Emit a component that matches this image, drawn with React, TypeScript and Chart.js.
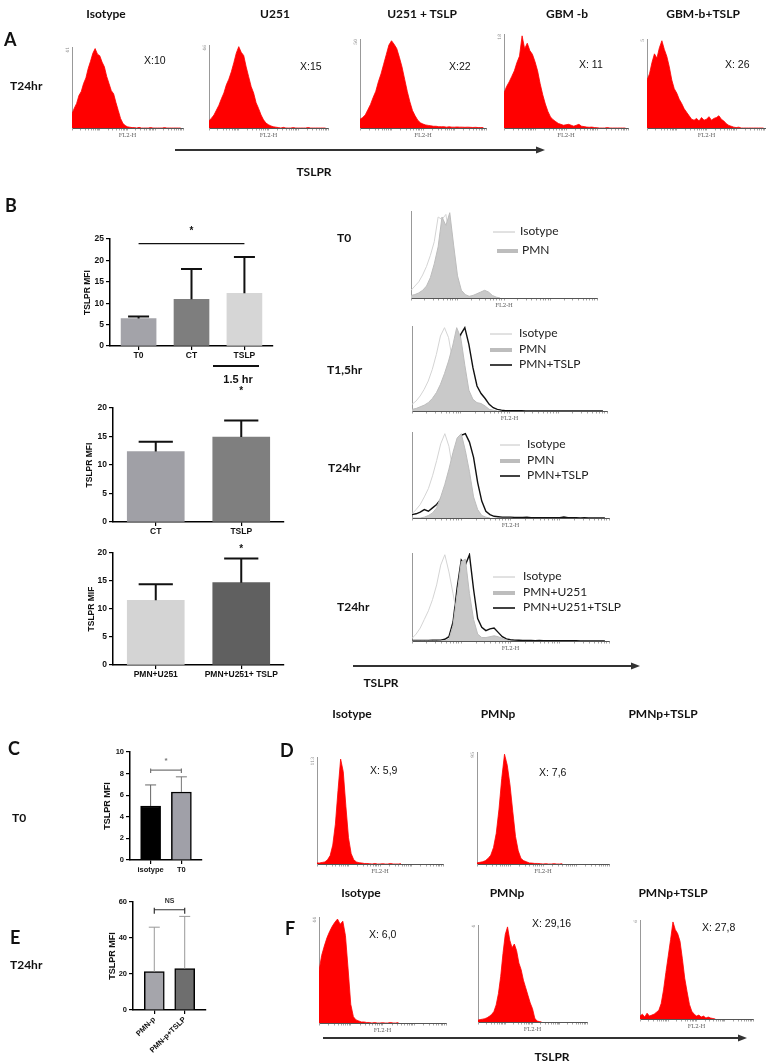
import React, { useEffect, useRef } from 'react';
import { Chart, registerables } from 'chart.js';

Chart.register(...registerables);
Chart.defaults.font.family = "'Liberation Sans', Arial, sans-serif";
Chart.defaults.color = '#111';

// ---------- flow-cytometry channel axis: 4 log decades ----------
const CHANNELS = 48;
const DECADES = [0, 1, 2, 3];
const MINOR = [1, 2, 3, 4, 5, 6, 7, 8, 9];

// ---------- Panel A (T24hr) histograms, counts per channel ----------
const A_ISOTYPE = [18, 25, 31, 41, 46, 56, 63, 75, 84, 94, 100, 93, 91, 83, 77, 65, 56, 47, 43, 32, 22, 12, 6, 3, 1.5, 1, 0.5, 0.5, 0, 0.8, 0, 0, 0, 0, 0.6, 0, 0, 0, 0, 0, 0.5, 0, 0, 0, 0, 0, 0, 0];
const A_U251 = [9, 12, 16, 22, 28, 36, 43, 53, 60, 69, 80, 92, 100, 93, 89, 75, 63, 51, 43, 31, 24, 16, 10, 6, 4, 2.5, 1.5, 1, 0.5, 0, 0.8, 0, 0, 0, 0.5, 0, 0, 0, 0, 0, 0.6, 0, 0, 0, 0, 0, 0, 0];
const A_U251_TSLP = [10, 12, 15, 21, 27, 35, 42, 53, 62, 73, 84, 95, 100, 96, 91, 81, 70, 56, 42, 30, 20, 14, 9, 6, 4.5, 3.5, 3, 2.5, 2, 2, 1.5, 1.5, 1.5, 1, 1.5, 1, 1, 1.2, 1, 1, 0.8, 1, 0.8, 0.6, 0.8, 0.5, 0.5, 0.5];
const A_GBM = [38, 45, 50, 56, 62, 71, 78, 100, 86, 92, 84, 80, 72, 62, 48, 36, 26, 18, 12, 9, 7, 5, 4, 3, 3.5, 4, 3, 2, 3, 4, 2, 1.5, 1, 0.8, 1, 0.5, 0.3, 0, 0, 0, 0.5, 0, 0, 0, 0, 0, 0, 0];
const A_GBM_TSLP = [55, 62, 75, 85, 80, 92, 100, 90, 82, 70, 55, 45, 40, 33, 28, 22, 18, 14, 10, 9, 11, 8, 12, 9, 10, 13, 9, 11, 12, 14, 10, 8, 5, 3, 2, 1, 0.5, 1, 0, 0, 0, 0, 0, 0, 0, 0, 0, 0];
const A_TOP_LABELS = ['41', '46', '50', '18', '5'];

// ---------- Panel B overlay histograms ----------
const B_T0_ISOTYPE = [9, 14, 19, 27, 37, 50, 66, 95, 92, 98, 70, 35, 10, 3, 1, 0];
const B_T0_PMN = [3, 4, 6, 9, 14, 24, 40, 60, 95, 85, 100, 62, 26, 9, 4, 2, 3, 5, 7, 9, 7, 3, 1, 0];
const B_T15_ISOTYPE = [8, 12, 18, 26, 36, 50, 68, 90, 100, 88, 60, 30, 10, 3, 1, 0];
const B_T15_PMN = [2, 3, 5, 7, 10, 15, 22, 32, 45, 60, 78, 100, 88, 55, 25, 14, 10, 9, 6, 2, 1, 0];
const B_T15_TSLP = [1, 1.5, 2, 3, 4, 5, 7, 10, 22, 35, 50, 70, 92, 100, 80, 52, 30, 21, 15, 8, 4, 2, 1, 0.5, 0.5, 0.3, 0.3, 0.3, 0.2, 0.2, 0.2, 0.2, 0.2, 0.2, 0.2, 0.2, 0.2, 0.2, 0.2, 0.2, 0.2, 0.2, 0.2, 0.2, 0.2, 0.2, 0.2, 0.2];
const B_T24_ISOTYPE = [5, 10, 16, 25, 35, 50, 68, 88, 100, 85, 55, 25, 8, 2, 0.5, 0];
const B_T24_PMN = [0, 0, 0, 1, 3, 6, 12, 25, 40, 58, 78, 95, 100, 80, 55, 25, 10, 3, 1, 0];
const B_T24_TSLP = [4, 5, 7, 10, 8, 12, 16, 22, 32, 42, 55, 75, 98, 100, 90, 72, 42, 20, 8, 4, 2, 1.5, 1, 1, 1, 0.8, 0.8, 0.6, 0.8, 0.5, 0.5, 0.5, 0.4, 0.5, 0.4, 0.3, 0.4, 1.2, 0.3, 0.3, 0.3, 0.2, 0.3, 0.2, 0.2, 0.2, 0.2, 0.2];
const B_U251_ISOTYPE = [3, 8, 15, 25, 35, 48, 65, 88, 100, 80, 55, 28, 10, 3, 1, 0.5, 0];
const B_U251_PMN = [0, 0, 0, 0, 0, 0, 0, 0, 0.5, 2, 18, 55, 92, 95, 55, 25, 8, 4, 4, 5, 6, 5, 3, 1, 0];
const B_U251_TSLP = [0.5, 0.5, 0.5, 0.5, 0.5, 0.8, 0.8, 1, 2, 5, 22, 62, 94, 88, 100, 60, 26, 16, 12, 14, 15, 10, 5, 2.5, 1.5, 1, 0.8, 0.5, 0.5, 0.5, 0.4, 0.5, 0.4, 0.3, 0.3, 0.3, 0.3, 0.3, 0.3, 0.3, 0.3, 0.2, 0.2, 0.2, 0.2, 0.2, 0.2, 0.2];

// ---------- Panel D / F histograms ----------
const D_ISOTYPE = [1, 1, 1.5, 2, 4, 8, 18, 38, 70, 100, 88, 55, 25, 10, 4, 2, 1.2, 1, 0.5, 0.5, 0.3, 0, 0.5, 0, 0, 0.3, 0, 0, 0.5, 0, 0, 0, 0.3];
const D_PMNP = [1, 1.5, 2, 3, 5, 8, 15, 28, 50, 78, 100, 90, 72, 48, 25, 12, 5, 3, 2, 1, 0.8, 0.5, 0.5, 0.3, 0, 0.3, 0, 0, 0.3, 0, 0, 0.3];
const D_TOP_LABELS = ['113', '95'];
const F_ISOTYPE = [50, 65, 74, 82, 88, 93, 97, 100, 95, 98, 84, 52, 18, 6, 3, 2, 1, 1, 0.5, 0.5, 0, 0.5, 0, 0, 0.3, 0, 0, 0.5, 0, 0, 0.4];
const F_PMNP = [2, 2.5, 3, 3.5, 4.5, 6, 8, 11, 18, 30, 48, 72, 92, 100, 86, 78, 82, 75, 62, 55, 44, 36, 28, 20, 14, 4, 1, 0.5, 0];
const F_PMNP_TSLP = [3, 5, 2, 6, 3, 4, 5, 7, 9, 16, 30, 48, 65, 82, 100, 92, 88, 80, 62, 42, 28, 15, 8, 5, 3, 4, 2, 3, 1, 2, 1, 0.5, 0];
const F_TOP_LABELS = ['44', '4', '6'];

// ---------- Bar charts (MFI) ----------
const B1_CATS = ['T0', 'CT', 'TSLP'];
const B1_MEAN = [6.4, 10.9, 12.3];
const B1_UPPER = [6.9, 18.0, 20.8];
const B1_COLORS = ['#a3a3a9', '#7e7e7e', '#d6d6d6'];
const B1_TICKS = { max: 25, step: 5 };

const B2_CATS = ['CT', 'TSLP'];
const B2_MEAN = [12.35, 14.9];
const B2_UPPER = [14.1, 17.8];
const B2_COLORS = ['#a0a0a6', '#7f7f7f'];
const B2_TICKS = { max: 20, step: 5 };

const B3_CATS = ['PMN+U251', 'PMN+U251+ TSLP'];
const B3_MEAN = [11.55, 14.7];
const B3_UPPER = [14.4, 19.0];
const B3_COLORS = ['#d4d4d4', '#606060'];
const B3_TICKS = { max: 20, step: 5 };

const C_CATS = ['isotype', 'T0'];
const C_MEAN = [5.0, 6.3];
const C_UPPER = [6.95, 7.7];
const C_COLORS = ['#000000', '#a0a0a8'];
const C_TICKS = { max: 10, step: 2 };

const E_CATS = ['PMN-p', 'PMN-p+TSLP'];
const E_MEAN = [21.3, 23.0];
const E_UPPER = [46, 52];
const E_COLORS = ['#a5a5ab', '#6e6e6e'];
const E_TICKS = { max: 60, step: 20 };

const LOG_TICKS = DECADES.flatMap((d) => MINOR.map((m) => (CHANNELS / DECADES.length) * (d + Math.log10(m)))).concat([CHANNELS]);

// ---------- generic chart box ----------
function Plot({ rect, yW, xH, pad, make }: any) {
  const ref = useRef<HTMLCanvasElement>(null);
  const [L, T, R, B] = rect;
  const p = { top: 0, right: 0, bottom: 0, left: 0, ...(pad || {}) };
  const left = L - yW - p.left;
  const top = T - p.top;
  const w = R - L + yW + p.left + p.right;
  const h = B - T + xH + p.top + p.bottom;
  useEffect(() => {
    const cfg = make();
    const o = cfg.options;
    o.responsive = false;
    o.animation = false;
    o.devicePixelRatio = 1;
    o.events = [];
    o.layout = { padding: p, autoPadding: false };
    o.plugins = { ...(o.plugins || {}), legend: { display: false }, tooltip: { enabled: false } };
    o.scales.x.afterFit = (s: any) => { s.height = xH; };
    o.scales.y.afterFit = (s: any) => { s.width = yW; };
    const chart = new Chart(ref.current as HTMLCanvasElement, cfg);
    return () => chart.destroy();
  }, []);
  return <canvas ref={ref} width={w} height={h} style={{ position: 'absolute', left, top, width: w, height: h }} />;
}

// ---------- histogram config ----------
function histMake(series: any[], yLabel: string) {
  return () => ({
    type: 'line',
    data: {
      datasets: series.map(([vals, kind]: any) => ({
        data: vals.map((v: number, i: number) => ({ x: i, y: v })),
        fill: kind === 'red' || kind === 'fill' ? 'origin' : false,
        backgroundColor: kind === 'red' ? '#ff0000' : '#c9c9c9',
        borderColor: kind === 'red' ? '#ff0000' : kind === 'fill' ? '#bcbcbc' : kind === 'iso' ? '#d4d4d4' : '#111111',
        borderWidth: kind === 'red' ? 0.8 : kind === 'dark' ? 1.4 : 1,
        pointRadius: 0,
        tension: 0,
      })),
    },
    options: {
      scales: {
        x: {
          type: 'linear', min: 0, max: CHANNELS,
          afterBuildTicks: (s: any) => { s.ticks = LOG_TICKS.map((v) => ({ value: v })); },
          ticks: { display: false },
          grid: { display: true, drawOnChartArea: false, drawTicks: true, tickLength: 2.5, color: '#666', lineWidth: 0.6 },
          border: { display: true, color: '#555', width: 1 },
          title: { display: true, text: 'FL2-H', font: { size: 5.5, family: "'DejaVu Serif', serif" }, color: '#555', padding: 0 },
        },
        y: {
          min: 0, max: 102,
          ticks: { display: false },
          grid: { display: false, drawTicks: false },
          border: { display: true, color: '#999', width: 1 },
          title: { display: !!yLabel, text: yLabel, align: 'end', font: { size: 4.5, family: "'DejaVu Serif', serif" }, color: '#888', padding: 0 },
        },
      },
    },
  });
}

// ---------- bar chart config ----------
function annotPlugin(spec: any) {
  return {
    id: 'annot',
    afterDatasetsDraw(chart: any) {
      const ctx = chart.ctx;
      const xs = chart.scales.x;
      const ys = chart.scales.y;
      const meta = chart.getDatasetMeta(0);
      ctx.save();
      spec.upper.forEach((u: number, i: number) => {
        const el = meta.data[i];
        const xc = el.x;
        const half = (el.width * spec.cap) / 2;
        const y0 = ys.getPixelForValue(spec.mean[i]);
        const y1 = ys.getPixelForValue(u);
        ctx.strokeStyle = spec.errColor[i];
        ctx.lineWidth = spec.errW;
        ctx.beginPath();
        ctx.moveTo(xc, y0);
        ctx.lineTo(xc, y1);
        ctx.moveTo(xc - half, y1);
        ctx.lineTo(xc + half, y1);
        ctx.stroke();
      });
      (spec.marks || []).forEach((m: any) => {
        const xa = xs.getPixelForValue(m.i0);
        const xb = xs.getPixelForValue(m.i1);
        ctx.strokeStyle = m.color;
        ctx.fillStyle = m.color;
        if (m.v !== undefined) {
          const yy = ys.getPixelForValue(m.v);
          ctx.lineWidth = m.lw;
          ctx.beginPath();
          ctx.moveTo(xa, yy);
          ctx.lineTo(xb, yy);
          if (m.drop) {
            ctx.moveTo(xa, yy - m.drop / 2);
            ctx.lineTo(xa, yy + m.drop);
            ctx.moveTo(xb, yy - m.drop / 2);
            ctx.lineTo(xb, yy + m.drop);
          }
          ctx.stroke();
        }
        ctx.font = m.font;
        ctx.textAlign = 'center';
        ctx.textBaseline = 'middle';
        ctx.fillText(m.text, (xa + xb) / 2, ys.getPixelForValue(m.tv));
      });
      ctx.restore();
    },
  };
}

function barMake(spec: any) {
  return () => ({
    type: 'bar',
    data: {
      datasets: [{
        data: spec.mean.map((v: number, i: number) => ({ x: i, y: v })),
        backgroundColor: spec.colors,
        borderColor: '#000',
        borderWidth: spec.outline ? 1.5 : 0,
        barThickness: spec.barPx,
      }],
    },
    options: {
      scales: {
        x: {
          type: 'linear', min: -spec.span, max: spec.cats.length - 1 + spec.span, offset: false,
          afterBuildTicks: (s: any) => { s.ticks = spec.cats.map((_: any, i: number) => ({ value: i })); },
          ticks: {
            autoSkip: false, padding: 1, color: '#111',
            font: { size: spec.tickSize, weight: 'bold' },
            maxRotation: spec.rot, minRotation: spec.rot,
            callback: (v: number) => spec.cats[Math.round(v)] ?? '',
          },
          grid: { display: true, drawOnChartArea: false, drawTicks: true, tickLength: 4, color: '#000', lineWidth: 1.2, offset: false },
          border: { display: true, color: '#000', width: 1.5 },
        },
        y: {
          min: 0, max: spec.ticks.max,
          ticks: { stepSize: spec.ticks.step, padding: 2, color: '#111', font: { size: spec.tickSize, weight: 'bold' } },
          grid: { drawOnChartArea: false, drawTicks: true, tickLength: 4, color: '#000', lineWidth: 1.2 },
          border: { display: true, color: '#000', width: 1.5 },
          title: { display: true, text: spec.title, color: '#111', padding: 0, font: { size: spec.titleSize, weight: 'bold' } },
        },
      },
    },
    plugins: [annotPlugin(spec)],
  });
}

const BLACK_STAR = { color: '#111', font: "bold 10px 'Liberation Sans'", lw: 1.3 };

const BAR_CHARTS = [
  { rect: [110, 239, 273, 346], yW: 27, xH: 17, pad: { top: 16, right: 6 }, spec: { cats: B1_CATS, mean: B1_MEAN, upper: B1_UPPER, colors: B1_COLORS, ticks: B1_TICKS, title: 'TSLPR MFI', span: 0.54, barPx: 35, outline: false, errColor: ['#111', '#111', '#111'], errW: 2, cap: 0.6, rot: 0, tickSize: 8.5, titleSize: 8.5, marks: [{ i0: 0, i1: 2, v: 23.9, text: '*', tv: 26.8, ...BLACK_STAR }] } },
  { rect: [113, 408, 284, 522], yW: 28, xH: 17, pad: { top: 22, right: 6 }, spec: { cats: B2_CATS, mean: B2_MEAN, upper: B2_UPPER, colors: B2_COLORS, ticks: B2_TICKS, title: 'TSLPR MFI', span: 0.5, barPx: 57, outline: false, errColor: ['#111', '#111'], errW: 2, cap: 0.6, rot: 0, tickSize: 8.5, titleSize: 8.5, marks: [{ i0: 1, i1: 1, text: '*', tv: 22.9, ...BLACK_STAR }] } },
  { rect: [113, 553, 284, 665], yW: 26, xH: 17, pad: { top: 20, right: 6 }, spec: { cats: B3_CATS, mean: B3_MEAN, upper: B3_UPPER, colors: B3_COLORS, ticks: B3_TICKS, title: 'TSLPR MIF', span: 0.5, barPx: 57, outline: false, errColor: ['#111', '#111'], errW: 2, cap: 0.6, rot: 0, tickSize: 8.5, titleSize: 8.5, marks: [{ i0: 1, i1: 1, text: '*', tv: 20.7, ...BLACK_STAR }] } },
  { rect: [130, 752, 202, 860], yW: 28, xH: 16, pad: { top: 8, right: 6 }, spec: { cats: C_CATS, mean: C_MEAN, upper: C_UPPER, colors: C_COLORS, ticks: C_TICKS, title: 'TSLPR MFI', span: 0.67, barPx: 20, outline: true, errColor: ['#666', '#777'], errW: 1, cap: 0.55, rot: 0, tickSize: 7.5, titleSize: 9, marks: [{ i0: 0, i1: 1, v: 8.33, drop: 3, text: '*', tv: 9.2, color: '#777', font: "bold 8px 'Liberation Sans'", lw: 1.2 }] } },
  { rect: [133, 902, 206, 1010], yW: 26, xH: 48, pad: { top: 14, right: 6 }, spec: { cats: E_CATS, mean: E_MEAN, upper: E_UPPER, colors: E_COLORS, ticks: E_TICKS, title: 'TSLPR MFI', span: 0.7, barPx: 20, outline: true, errColor: ['#999', '#999'], errW: 1, cap: 0.55, rot: 45, tickSize: 7.5, titleSize: 9, marks: [{ i0: 0, i1: 1, v: 55.7, drop: 4, text: 'NS', tv: 60.5, color: '#333', font: "bold 7px 'Liberation Sans'", lw: 1.2 }] } },
];

const HISTS = [
  { rect: [72, 47, 183, 128], yW: 7, series: [[A_ISOTYPE, 'red']], yl: A_TOP_LABELS[0] },
  { rect: [209, 45, 328, 128], yW: 7, series: [[A_U251, 'red']], yl: A_TOP_LABELS[1] },
  { rect: [360, 39, 486, 128], yW: 7, series: [[A_U251_TSLP, 'red']], yl: A_TOP_LABELS[2] },
  { rect: [504, 34, 628, 128], yW: 7, series: [[A_GBM, 'red']], yl: A_TOP_LABELS[3] },
  { rect: [647, 39, 766, 128], yW: 7, series: [[A_GBM_TSLP, 'red']], yl: A_TOP_LABELS[4] },
  { rect: [411, 211, 597, 298], yW: 2, series: [[B_T0_PMN, 'fill'], [B_T0_ISOTYPE, 'iso']], yl: '' },
  { rect: [412, 326, 607, 411], yW: 2, series: [[B_T15_PMN, 'fill'], [B_T15_ISOTYPE, 'iso'], [B_T15_TSLP, 'dark']], yl: '' },
  { rect: [412, 432, 609, 518], yW: 2, series: [[B_T24_PMN, 'fill'], [B_T24_ISOTYPE, 'iso'], [B_T24_TSLP, 'dark']], yl: '' },
  { rect: [412, 553, 609, 641], yW: 2, series: [[B_U251_PMN, 'fill'], [B_U251_ISOTYPE, 'iso'], [B_U251_TSLP, 'dark']], yl: '' },
  { rect: [317, 757, 443, 864], yW: 7, series: [[D_ISOTYPE, 'red']], yl: D_TOP_LABELS[0] },
  { rect: [477, 752, 609, 864], yW: 7, series: [[D_PMNP, 'red']], yl: D_TOP_LABELS[1] },
  { rect: [319, 917, 446, 1023], yW: 7, series: [[F_ISOTYPE, 'red']], yl: F_TOP_LABELS[0] },
  { rect: [478, 925, 587, 1022], yW: 7, series: [[F_PMNP, 'red']], yl: F_TOP_LABELS[1] },
  { rect: [640, 920, 753, 1019], yW: 7, series: [[F_PMNP_TSLP, 'red']], yl: F_TOP_LABELS[2] },
];

// ---------- text ----------
const CAL = "Lato, 'Open Sans', sans-serif";
const ARIAL = "'Liberation Sans', Arial, sans-serif";
const TEXTS: any[] = [
  // panel A
  { t: 'Isotype', x: 106, y: 14, s: 12, b: true, a: 'c' },
  { t: 'U251', x: 275, y: 14, s: 12, b: true, a: 'c' },
  { t: 'U251 + TSLP', x: 422, y: 14, s: 12, b: true, a: 'c' },
  { t: 'GBM -b', x: 567, y: 14, s: 12, b: true, a: 'c' },
  { t: 'GBM-b+TSLP', x: 703, y: 14, s: 12, b: true, a: 'c' },
  { t: 'A', x: 4, y: 39, s: 18, b: true },
  { t: 'T24hr', x: 10, y: 86, s: 12, b: true },
  { t: 'X:10', x: 144, y: 60, s: 10.5, f: ARIAL },
  { t: 'X:15', x: 300, y: 66, s: 10.5, f: ARIAL },
  { t: 'X:22', x: 449, y: 66, s: 10.5, f: ARIAL },
  { t: 'X: 11', x: 579, y: 64, s: 10.5, f: ARIAL },
  { t: 'X: 26', x: 725, y: 64, s: 10.5, f: ARIAL },
  { t: 'TSLPR', x: 314, y: 172, s: 12, b: true, a: 'c' },
  // panel B
  { t: 'B', x: 5, y: 205, s: 18, b: true },
  { t: '1.5 hr', x: 238, y: 379, s: 11, b: true, a: 'c', f: ARIAL },
  { t: 'T0', x: 337, y: 238, s: 12, b: true },
  { t: 'T1,5hr', x: 327, y: 370, s: 12, b: true },
  { t: 'T24hr', x: 328, y: 468, s: 12, b: true },
  { t: 'T24hr', x: 337, y: 607, s: 12, b: true },
  { t: 'TSLPR', x: 381, y: 683, s: 12, b: true, a: 'c' },
  // panel C / E
  { t: 'C', x: 8, y: 748, s: 18, b: true },
  { t: 'T0', x: 12, y: 818, s: 12, b: true },
  { t: 'E', x: 10, y: 937, s: 18, b: true },
  { t: 'T24hr', x: 10, y: 965, s: 12, b: true },
  // panel D
  { t: 'Isotype', x: 352, y: 714, s: 12, b: true, a: 'c' },
  { t: 'PMNp', x: 498, y: 714, s: 12, b: true, a: 'c' },
  { t: 'PMNp+TSLP', x: 663, y: 714, s: 12, b: true, a: 'c' },
  { t: 'D', x: 280, y: 750, s: 18, b: true },
  { t: 'X: 5,9', x: 370, y: 770, s: 10.5, f: ARIAL },
  { t: 'X: 7,6', x: 539, y: 772, s: 10.5, f: ARIAL },
  // panel F
  { t: 'Isotype', x: 361, y: 893, s: 12, b: true, a: 'c' },
  { t: 'PMNp', x: 507, y: 893, s: 12, b: true, a: 'c' },
  { t: 'PMNp+TSLP', x: 673, y: 893, s: 12, b: true, a: 'c' },
  { t: 'F', x: 285, y: 928, s: 18, b: true },
  { t: 'X: 6,0', x: 369, y: 934, s: 10.5, f: ARIAL },
  { t: 'X: 29,16', x: 532, y: 923, s: 10.5, f: ARIAL },
  { t: 'X: 27,8', x: 702, y: 927, s: 10.5, f: ARIAL },
  { t: 'TSLPR', x: 552, y: 1057, s: 12, b: true, a: 'c' },
];

// legend entries for the overlay histograms: kind matches dataset style
const LEGENDS: any[] = [
  { x1: 493, x2: 515, y: 232, kind: 'iso', t: 'Isotype', tx: 520 },
  { x1: 497, x2: 518, y: 251, kind: 'fill', t: 'PMN', tx: 522 },
  { x1: 490, x2: 512, y: 334, kind: 'iso', t: 'Isotype', tx: 519 },
  { x1: 490, x2: 512, y: 350, kind: 'fill', t: 'PMN', tx: 519 },
  { x1: 490, x2: 512, y: 365, kind: 'dark', t: 'PMN+TSLP', tx: 519 },
  { x1: 500, x2: 520, y: 445, kind: 'iso', t: 'Isotype', tx: 527 },
  { x1: 500, x2: 520, y: 461, kind: 'fill', t: 'PMN', tx: 527 },
  { x1: 500, x2: 520, y: 476, kind: 'dark', t: 'PMN+TSLP', tx: 527 },
  { x1: 493, x2: 515, y: 577, kind: 'iso', t: 'Isotype', tx: 523 },
  { x1: 493, x2: 515, y: 593, kind: 'fill', t: 'PMN+U251', tx: 523 },
  { x1: 493, x2: 515, y: 608, kind: 'dark', t: 'PMN+U251+TSLP', tx: 523 },
];

const ARROWS = [
  { x1: 175, x2: 545, y: 150 },
  { x1: 353, x2: 640, y: 666 },
  { x1: 323, x2: 747, y: 1038 },
];

function Txt({ d }: any) {
  return (
    <div style={{
      position: 'absolute', left: d.x, top: d.y, transform: `translate(${d.a === 'c' ? '-50%' : '0'}, -50%)`,
      fontFamily: d.f || CAL, fontSize: d.s, fontWeight: d.b ? 700 : 400, lineHeight: 1, whiteSpace: 'nowrap', color: d.c || '#111',
    }}>{d.t}</div>
  );
}

export default function App() {
  return (
    <div style={{ position: 'absolute', left: 0, top: 0, width: 766, height: 1064, background: '#fff', overflow: 'hidden' }}>
      {HISTS.map((h, i) => (
        <Plot key={'h' + i} rect={h.rect} yW={h.yW} xH={11} pad={{ top: 2, right: 2 }} make={histMake(h.series, h.yl)} />
      ))}
      {BAR_CHARTS.map((b, i) => (
        <Plot key={'b' + i} rect={b.rect} yW={b.yW} xH={b.xH} pad={b.pad} make={barMake(b.spec)} />
      ))}
      <svg width={766} height={1064} style={{ position: 'absolute', left: 0, top: 0, pointerEvents: 'none' }}>
        {ARROWS.map((a, i) => (
          <g key={i}>
            <line x1={a.x1} y1={a.y} x2={a.x2 - 6} y2={a.y} stroke="#333" strokeWidth={1.8} />
            <polygon points={`${a.x2},${a.y} ${a.x2 - 9},${a.y - 3.5} ${a.x2 - 9},${a.y + 3.5}`} fill="#333" />
          </g>
        ))}
        <line x1={213} y1={366} x2={259} y2={366} stroke="#111" strokeWidth={2} />
        {LEGENDS.map((l, i) => (
          <line key={i} x1={l.x1} y1={l.y} x2={l.x2} y2={l.y}
            stroke={l.kind === 'iso' ? '#c4c4c4' : l.kind === 'fill' ? '#bdbdbd' : '#111'}
            strokeWidth={l.kind === 'iso' ? 1 : l.kind === 'fill' ? 4 : 1.6} />
        ))}
      </svg>
      {LEGENDS.map((l, i) => (
        <Txt key={'l' + i} d={{ t: l.t, x: l.tx, y: l.y - 1, s: 12, f: CAL, c: '#222' }} />
      ))}
      {TEXTS.map((d, i) => <Txt key={'t' + i} d={d} />)}
    </div>
  );
}
